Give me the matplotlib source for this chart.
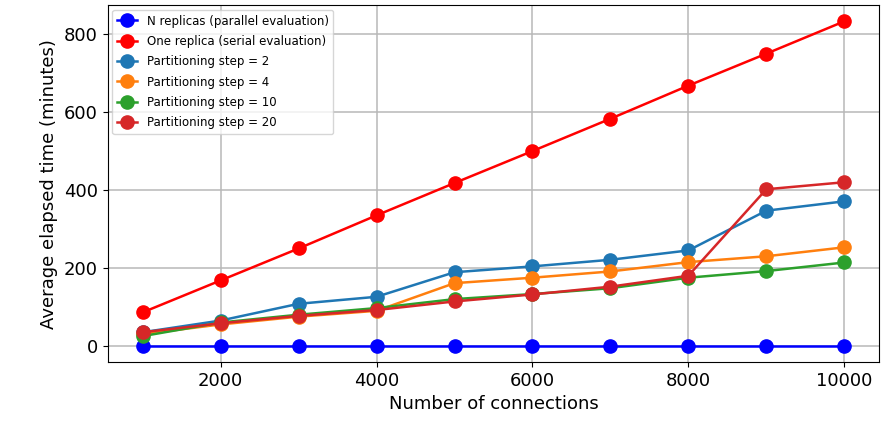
import matplotlib
matplotlib.use("Agg")
import matplotlib.pyplot as plt

connections = [1000, 2000, 3000, 4000, 5000, 6000, 7000, 8000, 9000, 10000]

parallel = [0, 0, 0, 0, 0, 0, 0, 0, 0, 0]
serial = [86, 168, 250, 335, 418, 500, 583, 668, 750, 833]
step_2 = [35, 65, 108, 126, 189, 204, 221, 245, 347, 371]
step_4 = [30, 55, 75, 90, 161, 175, 191, 215, 230, 253]
step_10 = [25, 60, 80, 97, 120, 133, 148, 175, 192, 214]
step_20 = [35, 58, 77, 92, 114, 132, 152, 180, 402, 420]

plt.rcParams['font.size'] = 13

fig, ax = plt.subplots(figsize=(8.82, 4.26), dpi=100)

ms = 9.5
lw = 1.8
ax.plot(connections, parallel, 'o-', color='blue', ms=ms, lw=lw, label='N replicas (parallel evaluation)')
ax.plot(connections, serial, 'o-', color='red', ms=ms, lw=lw, label='One replica (serial evaluation)')
ax.plot(connections, step_2, 'o-', color='tab:blue', ms=ms, lw=lw, label='Partitioning step = 2')
ax.plot(connections, step_4, 'o-', color='tab:orange', ms=ms, lw=lw, label='Partitioning step = 4')
ax.plot(connections, step_10, 'o-', color='tab:green', ms=ms, lw=lw, label='Partitioning step = 10')
ax.plot(connections, step_20, 'o-', color='tab:red', ms=ms, lw=lw, label='Partitioning step = 20')

ax.set_xlabel('Number of connections')
ax.set_ylabel('Average elapsed time (minutes)')
ax.set_xticks([2000, 4000, 6000, 8000, 10000])
ax.set_yticks([0, 200, 400, 600, 800])
ax.grid(True, lw=1.1, color='#b8b8b8')
ax.legend(loc='upper left', fontsize=8.5, labelspacing=0.62, handlelength=1.7,
          borderaxespad=0.4)

plt.subplots_adjust(left=0.122, right=0.997, top=0.988, bottom=0.15)
plt.savefig('out.png', dpi=100)
